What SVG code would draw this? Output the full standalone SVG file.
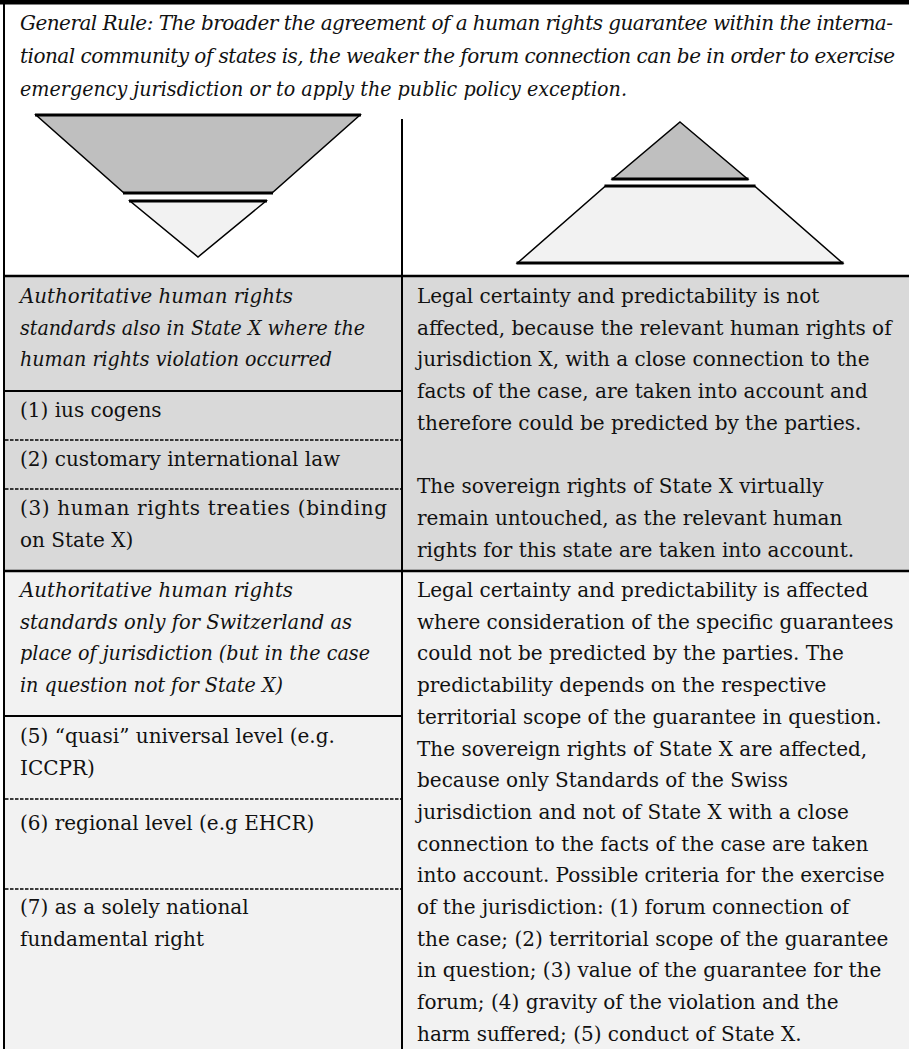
<svg xmlns="http://www.w3.org/2000/svg" width="909" height="1049" viewBox="0 0 909 1049">
<style>
text { font-family: "DejaVu Serif", "Liberation Serif", serif; font-size: 20px; fill: #111; }
.it { font-style: italic; }
.solid { stroke: #000; stroke-width: 2; }
.heavy { stroke: #000; stroke-width: 2.5; }
.dash { stroke: #000; stroke-width: 1.5; stroke-dasharray: 3.5 1.5; }
.edge { stroke: #000; stroke-width: 1.5; }
.thick { stroke: #000; stroke-width: 3; }
.dark { fill: #bfbfbf; }
.light { fill: #f2f2f2; }
</style>
<rect width="909" height="1049" fill="#fff"/>
<rect x="4" y="276" width="905" height="295" fill="#d9d9d9"/>
<rect x="4" y="571" width="905" height="478" fill="#f2f2f2"/>

<g id="general-rule">
<text class="it" x="20" y="30" textLength="873">General Rule: The broader the agreement of a human rights guarantee within the interna-</text>
<text class="it" x="20" y="63" textLength="875">tional community of states is, the weaker the forum connection can be in order to exercise</text>
<text class="it" x="20" y="96" textLength="607" lengthAdjust="spacingAndGlyphs">emergency jurisdiction or to apply the public policy exception.</text>
</g>

<g id="inverted-pyramid">
<polygon class="dark edge" points="36,115 360,115 272,193 124,193"/>
<line class="thick" x1="35" y1="115" x2="361" y2="115"/>
<line class="thick" x1="123" y1="193" x2="273" y2="193"/>
<polygon class="light edge" points="130,201 266,201 198,257"/>
<line class="thick" x1="129" y1="201" x2="267" y2="201"/>
</g>

<g id="pyramid">
<polygon class="dark edge" points="680,122 747.5,179 612.5,179"/>
<line class="thick" x1="611.5" y1="179" x2="748.5" y2="179"/>
<polygon class="light edge" points="605.5,186 754.5,186 842.5,263 517.5,263"/>
<line class="thick" x1="604.5" y1="186" x2="755.5" y2="186"/>
<line class="thick" x1="516.5" y1="263" x2="843.5" y2="263"/>
</g>

<g id="rules">
<rect x="0" y="0" width="909" height="4.5" fill="#000"/>
<line class="solid" x1="4" y1="0" x2="4" y2="1049"/>
<line class="solid" x1="402" y1="119" x2="402" y2="1049"/>
<line class="heavy" x1="4" y1="276" x2="909" y2="276"/>
<line class="heavy" x1="4" y1="571" x2="909" y2="571"/>
<line class="solid" x1="4" y1="391" x2="402" y2="391"/>
<line class="solid" x1="4" y1="716" x2="402" y2="716"/>
<line class="dash" x1="5" y1="440" x2="401" y2="440"/>
<line class="dash" x1="5" y1="489" x2="401" y2="489"/>
<line class="dash" x1="5" y1="799" x2="401" y2="799"/>
<line class="dash" x1="5" y1="889" x2="401" y2="889"/>
</g>

<g id="state-x-standards">
<text class="it" x="20" y="303" textLength="273" lengthAdjust="spacingAndGlyphs">Authoritative human rights</text>
<text class="it" x="20" y="334.7" textLength="345" lengthAdjust="spacingAndGlyphs">standards also in State X where the</text>
<text class="it" x="20" y="366.4" textLength="312" lengthAdjust="spacingAndGlyphs">human rights violation occurred</text>
</g>
<g id="ius-cogens"><text x="20" y="417">(1) ius cogens</text></g>
<g id="customary-law"><text x="20" y="466">(2) customary international law</text></g>
<g id="treaties">
<text x="20" y="515" textLength="367">(3) human rights treaties (binding</text>
<text x="20" y="546.7">on State X)</text>
</g>

<g id="effects-state-x">
<text x="417" y="303">Legal certainty and predictability is not</text>
<text x="417" y="334.7">affected, because the relevant human rights of</text>
<text x="417" y="366.4">jurisdiction X, with a close connection to the</text>
<text x="417" y="398.1">facts of the case, are taken into account and</text>
<text x="417" y="429.8">therefore could be predicted by the parties.</text>
<text x="417" y="493.2">The sovereign rights of State X virtually</text>
<text x="417" y="524.9">remain untouched, as the relevant human</text>
<text x="417" y="556.6">rights for this state are taken into account.</text>
</g>

<g id="swiss-standards">
<text class="it" x="20" y="597" textLength="273" lengthAdjust="spacingAndGlyphs">Authoritative human rights</text>
<text class="it" x="20" y="628.7" textLength="332" lengthAdjust="spacingAndGlyphs">standards only for Switzerland as</text>
<text class="it" x="20" y="660.4" textLength="350" lengthAdjust="spacingAndGlyphs">place of jurisdiction (but in the case</text>
<text class="it" x="20" y="692.1" textLength="263" lengthAdjust="spacingAndGlyphs">in question not for State X)</text>
</g>
<g id="quasi-universal">
<text x="20" y="743">(5) “quasi” universal level (e.g.</text>
<text x="20" y="774.7">ICCPR)</text>
</g>
<g id="regional"><text x="20" y="830">(6) regional level (e.g EHCR)</text></g>
<g id="national">
<text x="20" y="914">(7) as a solely national</text>
<text x="20" y="945.7">fundamental right</text>
</g>

<g id="effects-switzerland">
<text x="417" y="597">Legal certainty and predictability is affected</text>
<text x="417" y="628.7">where consideration of the specific guarantees</text>
<text x="417" y="660.4">could not be predicted by the parties. The</text>
<text x="417" y="692.1">predictability depends on the respective</text>
<text x="417" y="723.8">territorial scope of the guarantee in question.</text>
<text x="417" y="755.5">The sovereign rights of State X are affected,</text>
<text x="417" y="787.2">because only Standards of the Swiss</text>
<text x="417" y="818.9">jurisdiction and not of State X with a close</text>
<text x="417" y="850.6">connection to the facts of the case are taken</text>
<text x="417" y="882.3">into account. Possible criteria for the exercise</text>
<text x="417" y="914">of the jurisdiction: (1) forum connection of</text>
<text x="417" y="945.7">the case; (2) territorial scope of the guarantee</text>
<text x="417" y="977.4">in question; (3) value of the guarantee for the</text>
<text x="417" y="1009.1">forum; (4) gravity of the violation and the</text>
<text x="417" y="1040.8">harm suffered; (5) conduct of State X.</text>
</g>
</svg>
